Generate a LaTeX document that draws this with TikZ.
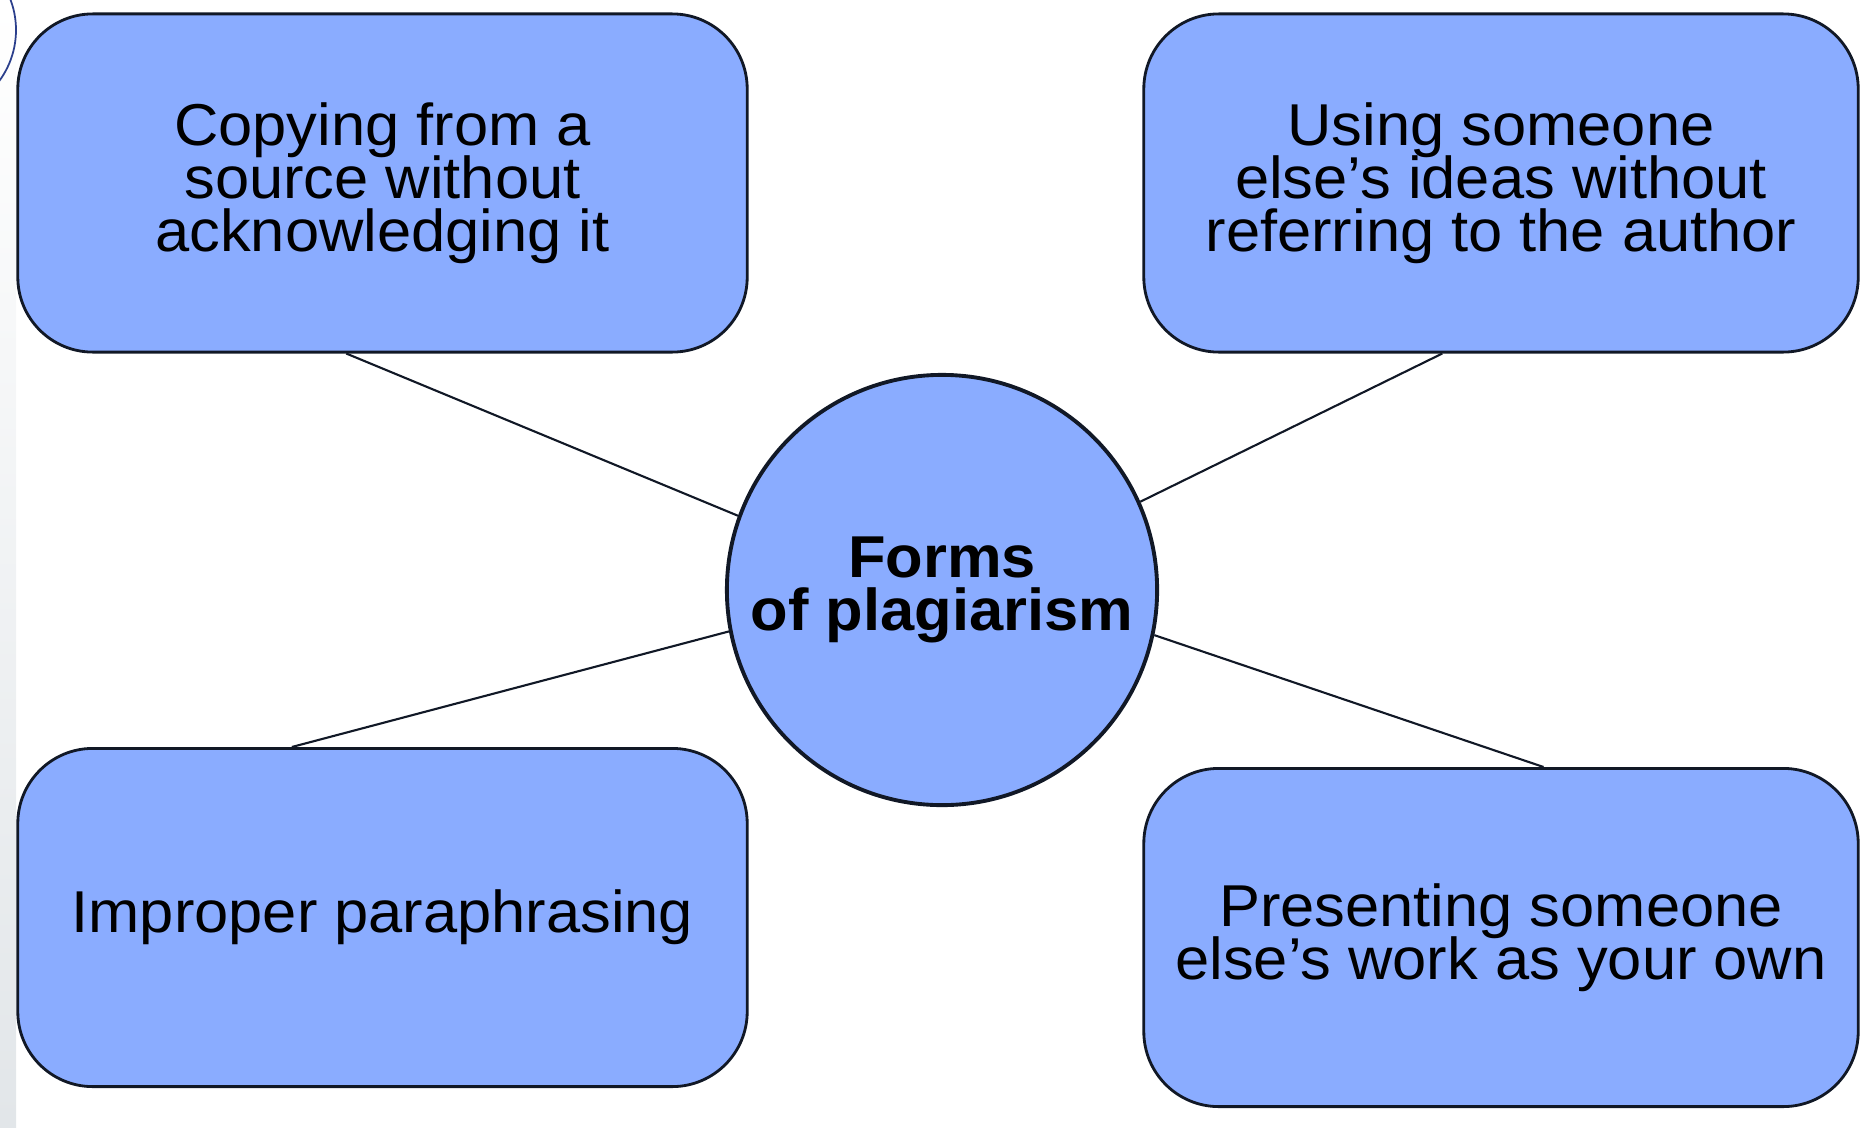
\documentclass[tikz,border=0pt]{standalone}
\usepackage{fontspec}
\setmainfont{Liberation Sans}[FakeStretch=1.04]
\usetikzlibrary{shapes.geometric}

\definecolor{ideablue}{HTML}{8AACFF}
\definecolor{inkline}{HTML}{111826}
\definecolor{stripgrey}{HTML}{E2E6E9}
\definecolor{arcblue}{HTML}{2B3F8C}

\newcommand{\ideafont}{\fontsize{16.8}{15.1}\selectfont\setlength{\lineskiplimit}{-20pt}}

\begin{document}
\begin{tikzpicture}[x=0.01cm, y=-0.01cm]

  \tikzstyle{idea} = [rectangle, rounded corners=0.75cm, minimum width=7.29cm, minimum height=3.38cm, text centered, align=center, draw=inkline, fill=ideablue, thick, font=\ideafont]
  \tikzstyle{hub}  = [circle, minimum size=4.3cm, inner sep=0pt, text centered, align=center, draw=inkline, fill=ideablue, line width=1.1pt, font=\ideafont\bfseries]
  \tikzstyle{link} = [draw=inkline, line width=0.6pt]

  \useasboundingbox (0,0) rectangle (1861,1127);
  \begin{scope}
    \clip (0,0) rectangle (1861,1127);
    \shade [top color=white, bottom color=stripgrey] (0,0) rectangle (16,1127);
    \draw [arcblue, line width=0.5pt] (-70,30) circle [radius=86];
  \end{scope}

  \node (forms)   [hub] at (942,590) {Forms\\of plagiarism};

  \node (copying) [idea] at (382.5,183) {Copying from a\\source without\\acknowledging it};
  \node (ideas)   [idea, minimum width=7.14cm] at (1501,183) {Using someone\\else’s ideas without\\referring to the author};
  \node (para)    [idea] at (382.5,917.5) {Improper paraphrasing};
  \node (work)    [idea, minimum width=7.14cm] at (1501,937.5) {Presenting someone\\else’s work as your own};

  \draw [link] (copying.258) -- (forms.160);
  \draw [link] (ideas.251) -- (forms.24);
  \draw [link] (para.118) -- (forms.191);
  \draw [link] (work.76) -- (forms.348);

\end{tikzpicture}
\end{document}
